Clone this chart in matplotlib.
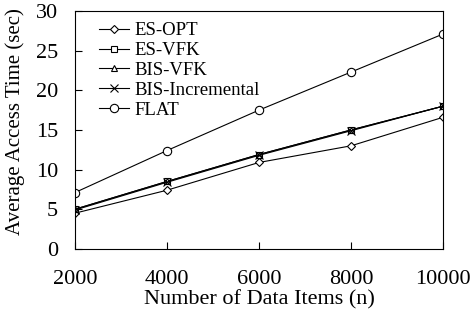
import matplotlib
matplotlib.use("Agg")
import matplotlib.pyplot as plt

plt.rcParams["font.family"] = ["Liberation Serif", "DejaVu Serif"]

# --------- 데이터 ---------
n_items = [2000, 4000, 6000, 8000, 10000]
es_opt = [4.5, 7.4, 10.9, 13.0, 16.6]
es_vfk = [5.0, 8.5, 11.9, 15.0, 18.0]
bis_vfk = [5.0, 8.5, 11.9, 15.0, 18.0]
bis_inc = [4.9, 8.4, 11.8, 14.9, 18.0]
flat = [7.1, 12.4, 17.5, 22.3, 27.1]

series = [
    ("ES-OPT", es_opt, "D", 4),
    ("ES-VFK", es_vfk, "s", 5),
    ("BIS-VFK", bis_vfk, "^", 5),
    ("BIS-Incremental", bis_inc, "x", 6),
    ("FLAT", flat, "o", 6),
]

fig = plt.figure(figsize=(4.71, 3.22), dpi=100)
ax = fig.add_axes([0.159, 0.227, 0.782, 0.739])

for name, vals, mk, ms in series:
    ax.plot(n_items, vals, color="black", linewidth=0.8, marker=mk,
            markersize=ms, markerfacecolor="white", markeredgecolor="black",
            markeredgewidth=0.8, label=name)

ax.set_xlim(2000, 10000)
ax.set_ylim(0, 30)
ax.set_xticks(n_items)
ax.set_yticks([0, 5, 10, 15, 20, 25, 30])
ax.tick_params(direction="in", top=False, right=False, labelsize=16, length=5)
ax.tick_params(axis="x", pad=15)
ax.tick_params(axis="y", pad=12)
ax.set_xlabel("Number of Data Items (n)", fontsize=16)
ax.set_ylabel("Average Access Time (sec)", fontsize=15)
ax.xaxis.set_label_coords(0.5, -0.175)
ax.yaxis.set_label_coords(-0.135, 0.536)

ax.legend(loc="upper left", frameon=False, fontsize=13.5, handlelength=1.6,
          handletextpad=0.3, labelspacing=0.15, borderaxespad=0.0,
          bbox_to_anchor=(0.045, 0.985))

fig.savefig("out.png", dpi=100)
